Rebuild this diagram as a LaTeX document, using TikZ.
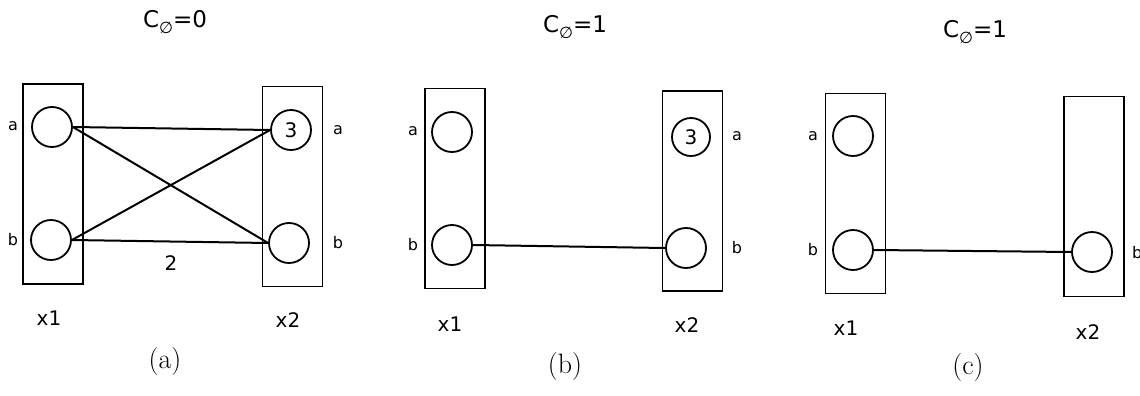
\documentclass[tikz,border=0pt]{standalone}
\usepackage{fontspec}
\setsansfont{DejaVu Sans}
\begin{document}
\begin{tikzpicture}[x=1pt,y=-1pt,
  every node/.style={font=\sffamily},
  var/.style={draw,line width=1.9pt,minimum width=60pt,minimum height=200pt,inner sep=0pt},
  val/.style={draw,circle,line width=1.8pt,minimum size=40pt,inner sep=0pt,font=\sffamily\fontsize{20}{20}\selectfont},
  lab/.style={font=\sffamily\fontsize{16}{16}\selectfont},
  vname/.style={font=\sffamily\fontsize{20}{20}\selectfont},
  subcap/.style={font=\rmfamily\fontsize{28}{28}\selectfont},
  ttl/.style={font=\sffamily\fontsize{23}{23}\selectfont},
  edge/.style={line width=2pt}]
\useasboundingbox (0,0) rectangle (1140,396);
\fill[white] (0,0) rectangle (1140,396);
\newcommand{\Cempty}[1]{C\raisebox{-0.45ex}{\fontsize{16}{16}\selectfont ∅}=#1}
% ---------- panel (a)
\node[ttl] (ta) at (175,22) {\Cempty{0}};
\node[var] (a1) at (53,184) {};
\node[var] (a2) at (292.5,186.5) {};
\node[val] (a1a) at (52,127) {};
\node[val] (a1b) at (51,240) {};
\node[val] (a2a) at (291,130) {3};
\node[val] (a2b) at (289,243) {};
\node[lab] (la1a) at (13,126) {a};
\node[lab] (la1b) at (13,240) {b};
\node[lab] (la2a) at (338,130) {a};
\node[lab] (la2b) at (338,243) {b};
\node[vname] (xa1) at (49,318) {x1};
\node[vname] (xa2) at (288,320) {x2};
\node[subcap] (capa) at (165,362) {(a)};
\draw[edge] (a1a.east) -- (a2a.west);
\draw[edge] (a1a.east) -- (a2b.west);
\draw[edge] (a1b.east) -- (a2a.west);
\draw[edge] (a1b.east) -- (a2b.west);
\node[font=\sffamily\fontsize{20}{20}\selectfont] (w2) at (171,263) {2};
% ---------- panel (b)
\node[ttl] (tb) at (575,27) {\Cempty{1}};
\node[var] (b1) at (455,188.5) {};
\node[var] (b2) at (692.5,191) {};
\node[val] (b1a) at (452,132) {};
\node[val] (b1b) at (452,245) {};
\node[val,minimum size=38pt] (b2a) at (691,137) {3};
\node[val] (b2b) at (686,248) {};
\node[lab] (lb1a) at (413,131) {a};
\node[lab] (lb1b) at (413,245) {b};
\node[lab] (lb2a) at (737,136) {a};
\node[lab] (lb2b) at (737,248) {b};
\node[vname] (xb1) at (450,324) {x1};
\node[vname] (xb2) at (687,325) {x2};
\node[subcap] (capb) at (565,367) {(b)};
\draw[edge] (b1b.east) -- (b2b.west);
% ---------- panel (c)
\node[ttl] (tc) at (975,32) {\Cempty{1}};
\node[var] (c1) at (855.5,193.5) {};
\node[var] (c2) at (1094,196.5) {};
\node[val] (c1a) at (853,136) {};
\node[val] (c1b) at (853,250) {};
\node[val] (c2b) at (1092,252) {};
\node[lab] (lc1a) at (813,136) {a};
\node[lab] (lc1b) at (813,250) {b};
\node[lab,anchor=west,inner sep=0pt] (lc2b) at (1132,253) {b};
\node[vname] (xc1) at (846,328) {x1};
\node[vname] (xc2) at (1088,332) {x2};
\node[subcap] (capc) at (968,368) {(c)};
\draw[edge] (c1b.east) -- (c2b.west);
\end{tikzpicture}
\end{document}
